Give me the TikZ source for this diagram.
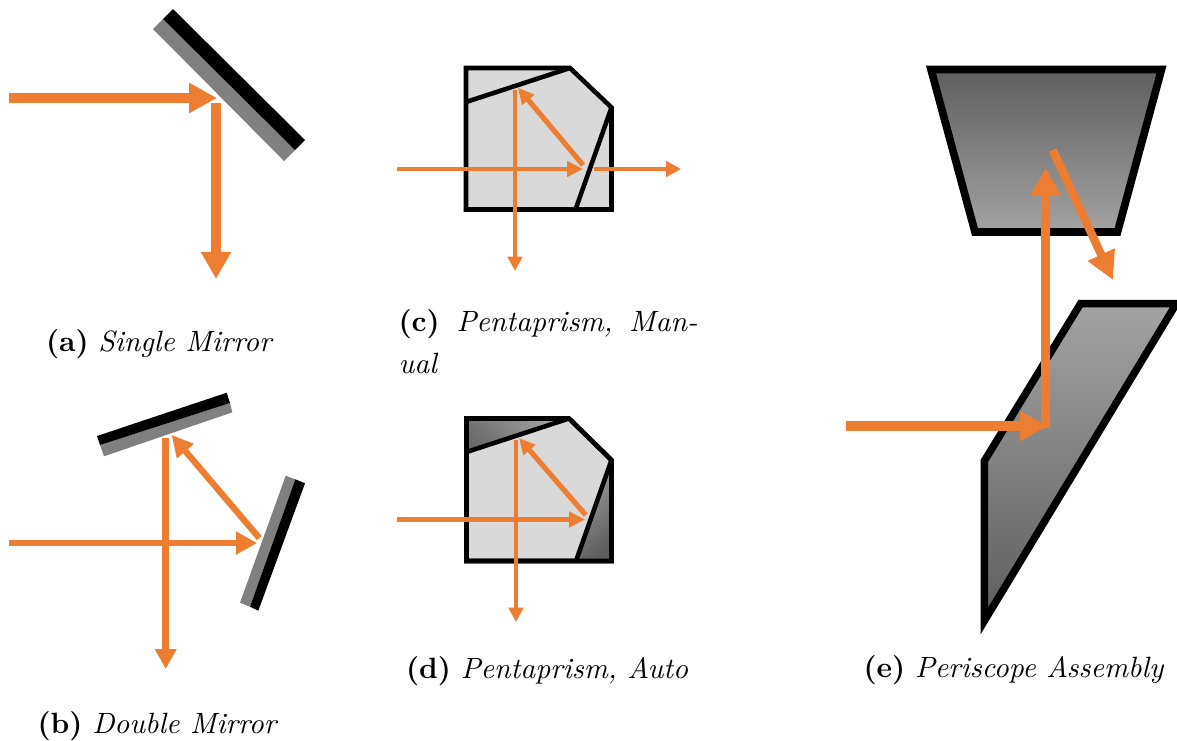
\documentclass[tikz,border=0pt]{standalone}
\usetikzlibrary{arrows.meta}
\definecolor{beamcol}{HTML}{ED7D31}
\definecolor{prismcol}{HTML}{D9D9D9}
\definecolor{glassdark}{HTML}{5E5E5E}
\definecolor{glasslight}{HTML}{A3A3A3}
\tikzset{
  beam/.style n args={3}{draw=beamcol,line width=#1pt,-{Triangle[length=#2pt,width=#3pt,fill=beamcol]}},
  capt/.style={anchor=base west,inner sep=0pt,font=\fontsize{10.27}{15}\selectfont},
  prism/.style={draw=black,line width=1.6pt,line join=miter},
  silver/.style={fill=black!50},
  coat/.style={fill=black}
}
\begin{document}
\begin{tikzpicture}[x=0.35pt,y=-0.35pt]
  \useasboundingbox (0,0) rectangle (1177,740);
  % single mirror
  \fill[silver] (163,19) -- (295,150) -- (284,161) -- (153,29) -- cycle;
  \fill[coat] (173,9) -- (305,140) -- (295,150) -- (163,19) -- cycle;
  \coordinate (aIn) at (9,98);
  \coordinate (aHit) at (217,98);
  \coordinate (aFrom) at (216,103);
  \coordinate (aOut) at (216,279);
  \draw[beam={3.5}{9.8}{10}] (aIn) -- (aHit);
  \draw[beam={3.3}{9.5}{10}] (aFrom) -- (aOut);
  \node[capt] (capA) at (45.5,351) {\textbf{(a)} \textit{Single Mirror}};
  % double mirror
  \fill[silver] (100,445) -- (230,403) -- (232.3,412.3) -- (104,456.3) -- cycle;
  \fill[coat] (97,436) -- (226.7,392.7) -- (230,403) -- (100,445) -- cycle;
  \fill[silver] (285.7,475.7) -- (295.3,479.3) -- (250,606.7) -- (240,602.7) -- cycle;
  \fill[coat] (295.3,479.3) -- (305,483.3) -- (258.3,610.7) -- (250,606.7) -- cycle;
  \coordinate (bIn) at (9,543);
  \coordinate (bHit) at (257,543);
  \coordinate (bBack) at (259.3,538);
  \coordinate (bTop) at (171.7,435);
  \coordinate (bFrom) at (165.7,438);
  \coordinate (bOut) at (165.7,669);
  \draw[beam={2.4}{7.4}{7.7}] (bIn) -- (bHit);
  \draw[beam={2.2}{7.4}{7.3}] (bBack) -- (bTop);
  \draw[beam={2.3}{7}{7.2}] (bFrom) -- (bOut);
  \node[capt] (capB) at (37,733) {\textbf{(b)} \textit{Double Mirror}};
  % pentaprism, manual
  \draw[prism,fill=prismcol] (466,68) -- (570,68) -- (611.5,107.5) -- (611.5,209.5) -- (466,209.5) -- cycle;
  \draw[prism] (466,102) -- (570,68);
  \draw[prism] (611.5,107.5) -- (575.5,209.5);
  \coordinate (cIn) at (397,169);
  \coordinate (cHit) at (583,169);
  \coordinate (cBack) at (583,165);
  \coordinate (cTop) at (518,87.7);
  \coordinate (cFrom) at (515,90);
  \coordinate (cOut) at (515,271);
  \coordinate (cExit) at (594,169);
  \coordinate (cEnd) at (681,169);
  \draw[beam={1.7}{5.6}{5.3}] (cIn) -- (cHit);
  \draw[beam={1.8}{5.6}{5.3}] (cBack) -- (cTop);
  \draw[beam={1.7}{5}{5}] (cFrom) -- (cOut);
  \draw[beam={1.7}{5.2}{5.3}] (cExit) -- (cEnd);
  \node[capt,anchor=north west,text width=299*0.35pt,align=justify] (capC) at (398,308.5) {\textbf{(c)}\hspace{0.8pt} \textit{Pentaprism, Manual}};
  % pentaprism, auto
  \draw[prism,fill=prismcol] (466.5,418.5) -- (569,418.5) -- (611.5,460) -- (611.5,561) -- (466.5,561) -- cycle;
  \shade[shading=axis,top color=glasslight,bottom color=black!58,shading angle=-45] (466.5,418.5) -- (569,418.5) -- (466.5,452) -- cycle;
  \shade[shading=axis,top color=glasslight,bottom color=glassdark,shading angle=45] (611.5,460) -- (611.5,561) -- (576,561) -- cycle;
  \draw[prism] (466.5,418.5) -- (569,418.5) -- (611.5,460) -- (611.5,561) -- (466.5,561) -- cycle;
  \draw[prism] (466.5,452) -- (569,418.5);
  \draw[prism] (611.5,460) -- (576,561);
  \coordinate (dIn) at (397,519.5);
  \coordinate (dHit) at (585,519.5);
  \coordinate (dBack) at (585.7,515);
  \coordinate (dTop) at (519,438);
  \coordinate (dFrom) at (516,440);
  \coordinate (dOut) at (516,622);
  \draw[beam={1.7}{5.6}{5.3}] (dIn) -- (dHit);
  \draw[beam={1.8}{5.6}{5.3}] (dBack) -- (dTop);
  \draw[beam={1.7}{5}{5}] (dFrom) -- (dOut);
  \node[capt] (capD) at (405.5,678) {\textbf{(d)} \textit{Pentaprism, Auto}};
  % periscope
  \draw[line width=2.7pt,line join=miter,top color=glassdark,bottom color=glasslight] (931,69.5) -- (1161.5,69.5) -- (1117.5,232) -- (975,232) -- cycle;
  \begin{scope}
    \clip (0,0) rectangle (1177,740);
    \draw[line width=2.6pt,line join=miter,top color=glasslight,bottom color=glassdark] (1080.5,303.7) -- (1176.3,303.7) -- (984.3,621) -- (984.3,461) -- cycle;
  \end{scope}
  \coordinate (eIn) at (846,426);
  \coordinate (eHit) at (1048,426);
  \coordinate (eLow) at (1045.7,426);
  \coordinate (eUp) at (1045.7,168);
  \coordinate (eFrom) at (1052.7,150);
  \coordinate (eOut) at (1113,280);
  \draw[beam={3.2}{9.8}{9.8}] (eIn) -- (eHit);
  \draw[line width=3.2pt,draw=beamcol,-{Triangle[length=9.4pt,width=10pt,fill=beamcol]}] ([yshift=-0.55pt]eLow) -- (eUp);
  \draw[beam={2.9}{9.8}{9.8}] (eFrom) -- (eOut);
  \node[capt] (capE) at (863,677) {\textbf{(e)} \textit{Periscope Assembly}};
\end{tikzpicture}
\end{document}
